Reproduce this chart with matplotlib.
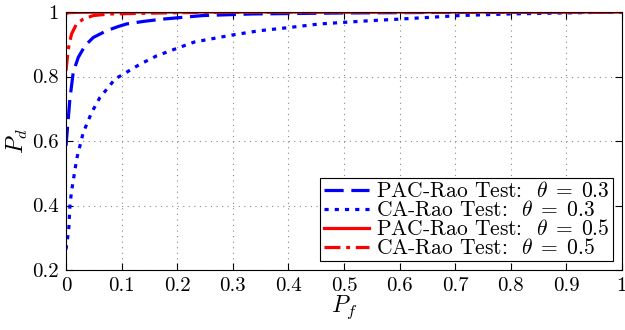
import matplotlib
matplotlib.use("Agg")
import matplotlib.pyplot as plt
import numpy as np

# Data
pf_pac03 = [0.0, 0.007, 0.013, 0.022, 0.034, 0.049, 0.073, 0.094, 0.109, 0.140, 0.174, 0.246, 0.336, 0.5, 0.7, 1.0]
pd_pac03 = [0.585, 0.73, 0.813, 0.859, 0.895, 0.921, 0.942, 0.955, 0.963, 0.971, 0.978, 0.989, 0.994, 0.997, 0.999, 1.0]

pf_ca03 = [0.0, 0.005, 0.007, 0.010, 0.013, 0.016, 0.020, 0.031, 0.046, 0.061, 0.076, 0.088, 0.101,
           0.133, 0.163, 0.199, 0.231, 0.30, 0.348, 0.402, 0.456, 0.546, 0.60, 0.708, 0.798, 0.89, 1.0]
pd_ca03 = [0.264, 0.326, 0.398, 0.445, 0.476, 0.51, 0.55, 0.626, 0.688, 0.735, 0.766, 0.792, 0.805,
           0.838, 0.864, 0.887, 0.907, 0.929, 0.942, 0.952, 0.963, 0.973, 0.978, 0.989, 0.994, 0.997, 1.0]

pf_pac05 = [0.0, 0.005, 0.02, 0.1, 1.0]
pd_pac05 = [0.995, 0.998, 0.999, 1.0, 1.0]

pf_ca05 = [0.0, 0.004, 0.010, 0.019, 0.031, 0.049, 0.079, 0.2, 0.4, 1.0]
pd_ca05 = [0.818, 0.885, 0.932, 0.963, 0.978, 0.989, 0.994, 0.998, 1.0, 1.0]

labels = [r"PAC-Rao Test:  $\theta\;=\;0.3$", r"CA-Rao Test:  $\theta\;=\;0.3$",
          r"PAC-Rao Test:  $\theta\;=\;0.5$", r"CA-Rao Test:  $\theta\;=\;0.5$"]
xticks = [0, 0.1, 0.2, 0.3, 0.4, 0.5, 0.6, 0.7, 0.8, 0.9, 1]
xticklabels = ["0", "0.1", "0.2", "0.3", "0.4", "0.5", "0.6", "0.7", "0.8", "0.9", "1"]
yticks = [0.2, 0.4, 0.6, 0.8, 1.0]
yticklabels = ["0.2", "0.4", "0.6", "0.8", "1"]

plt.rcParams['font.family'] = ['cmr10', 'DejaVu Serif']
plt.rcParams['mathtext.fontset'] = 'cm'
plt.rcParams['axes.unicode_minus'] = False

fig = plt.figure(figsize=(6.25, 3.3), dpi=100)
ax = fig.add_axes([0.1056, 0.1818, 0.8894, 0.7818])

lw = 2.3
ax.plot(pf_pac03, pd_pac03, color='#0000ff', lw=lw, dashes=(6, 2.4), label=labels[0])
ax.plot(pf_ca03, pd_ca03, color='#0000ff', lw=lw, dashes=(1.3, 1.9), label=labels[1])
ax.plot(pf_pac05, pd_pac05, color='#ff0000', lw=lw, linestyle='-', label=labels[2])
ax.plot(pf_ca05, pd_ca05, color='#ff0000', lw=lw, dashes=(5, 1.8, 1.2, 1.8), label=labels[3])

ax.set_xlim(0, 1)
ax.set_ylim(0.2, 1)
ax.set_xticks(xticks)
ax.set_xticklabels(xticklabels)
ax.set_yticks(yticks)
ax.set_yticklabels(yticklabels)
ax.tick_params(direction='in', top=True, right=True, labelsize=15, length=5, width=0.8, pad=5)
ax.grid(True, color='#888888', linestyle=(0, (1, 4)), linewidth=0.8)
for s in ax.spines.values():
    s.set_linewidth(0.8)

ax.set_xlabel(r"$P_f$", fontsize=17, labelpad=-1)
ax.set_ylabel(r"$P_d$", fontsize=17, labelpad=2)

leg = ax.legend(loc='lower right', fontsize=15.5, frameon=True, fancybox=False,
                edgecolor='black', framealpha=1, handlelength=2.1, handletextpad=0.35,
                borderpad=0.15, labelspacing=-0.05, borderaxespad=0.4)
leg.get_frame().set_linewidth(0.8)

fig.savefig("out.png", dpi=100)
